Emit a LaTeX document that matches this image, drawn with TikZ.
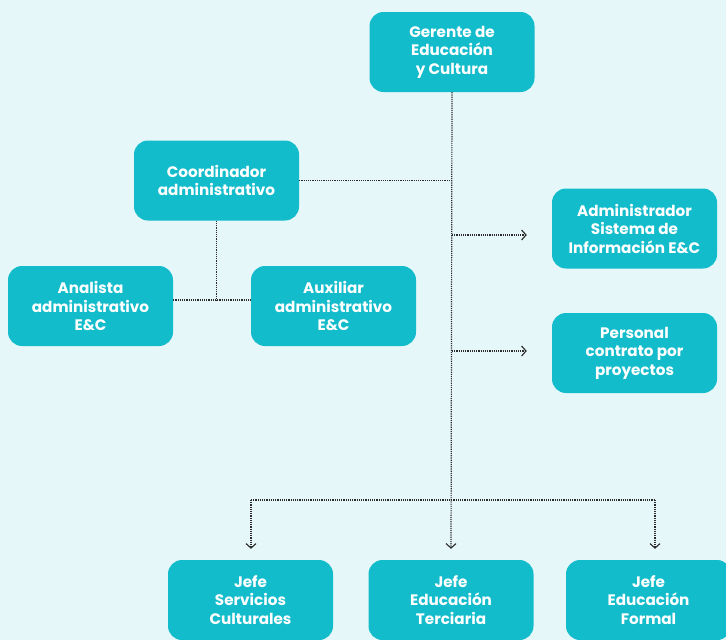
\documentclass[tikz,border=0pt]{standalone}
\usepackage{fontspec}
\setmainfont{Poppins}[BoldFont={Poppins Bold}]
\usetikzlibrary{arrows.meta}
\definecolor{fondo}{HTML}{E6F7FA}
\definecolor{turquesa}{HTML}{12BCCB}
\definecolor{linea}{HTML}{2B2B2B}

\begin{document}
\begin{tikzpicture}[x=1pt,y=-1pt,
puesto/.style={rectangle,rounded corners=14pt,fill=turquesa,text=white,
  minimum width=165pt,minimum height=80pt,inner sep=0pt,align=center,
  font=\bfseries\fontsize{15.2}{18.5}\selectfont},
conector/.style={dash pattern=on 1.2pt off 1pt,line width=1.2pt,color=linea},
flecha/.style={conector,-{Straight Barb[length=4.5pt,width=10pt,line width=1.1pt]}}]
\fill[fondo] (0,0) rectangle (726,640);
\useasboundingbox (0,0) rectangle (726,640);
% puestos
\node[puesto] (gerente) at (452,52) {Gerente de\\Educación\\y Cultura};
\node[puesto] (coord) at (216.5,180.5) {Coordinador\\administrativo};
\node[puesto] (analista) at (90.5,306) {Analista\\administrativo\\E\&C};
\node[puesto] (auxiliar) at (333.5,306) {Auxiliar\\administrativo\\E\&C};
\node[puesto] (sistema) at (634.5,228.5) {Administrador\\Sistema de\\Información E\&C};
\node[puesto] (personal) at (634.5,353) {Personal\\contrato por\\proyectos};
\node[puesto] (servicios) at (250.5,600) {Jefe\\Servicios\\Culturales};
\node[puesto] (terciaria) at (451,600) {Jefe\\Educación\\Terciaria};
\node[puesto] (formal) at (648.5,600) {Jefe\\Educación\\Formal};
% puntos de union
\coordinate (m) at (216.5,300);
\coordinate (r1) at (452,235);
\coordinate (r2) at (452,351);
\coordinate (bi) at (251,500);
\coordinate (bd) at (655,500);
% lineas
\draw[flecha,shorten >=11pt] (gerente.south) -- (terciaria.north);
\draw[conector] (coord.east) -- (coord.east -| gerente.south);
\draw[flecha,shorten >=25pt] (r1) -- (r1 -| sistema.west);
\draw[flecha,shorten >=25pt] (r2) -- (r2 -| personal.west);
\draw[conector] (coord.south) -- (m);
\draw[conector] (analista.east |- m) -- (auxiliar.west |- m);
\draw[conector] (bi) -- (bd);
\draw[flecha,shorten >=11pt] (bi) -- (bi |- servicios.north);
\draw[flecha,shorten >=11pt] (bd) -- (bd |- formal.north);
\end{tikzpicture}
\end{document}
